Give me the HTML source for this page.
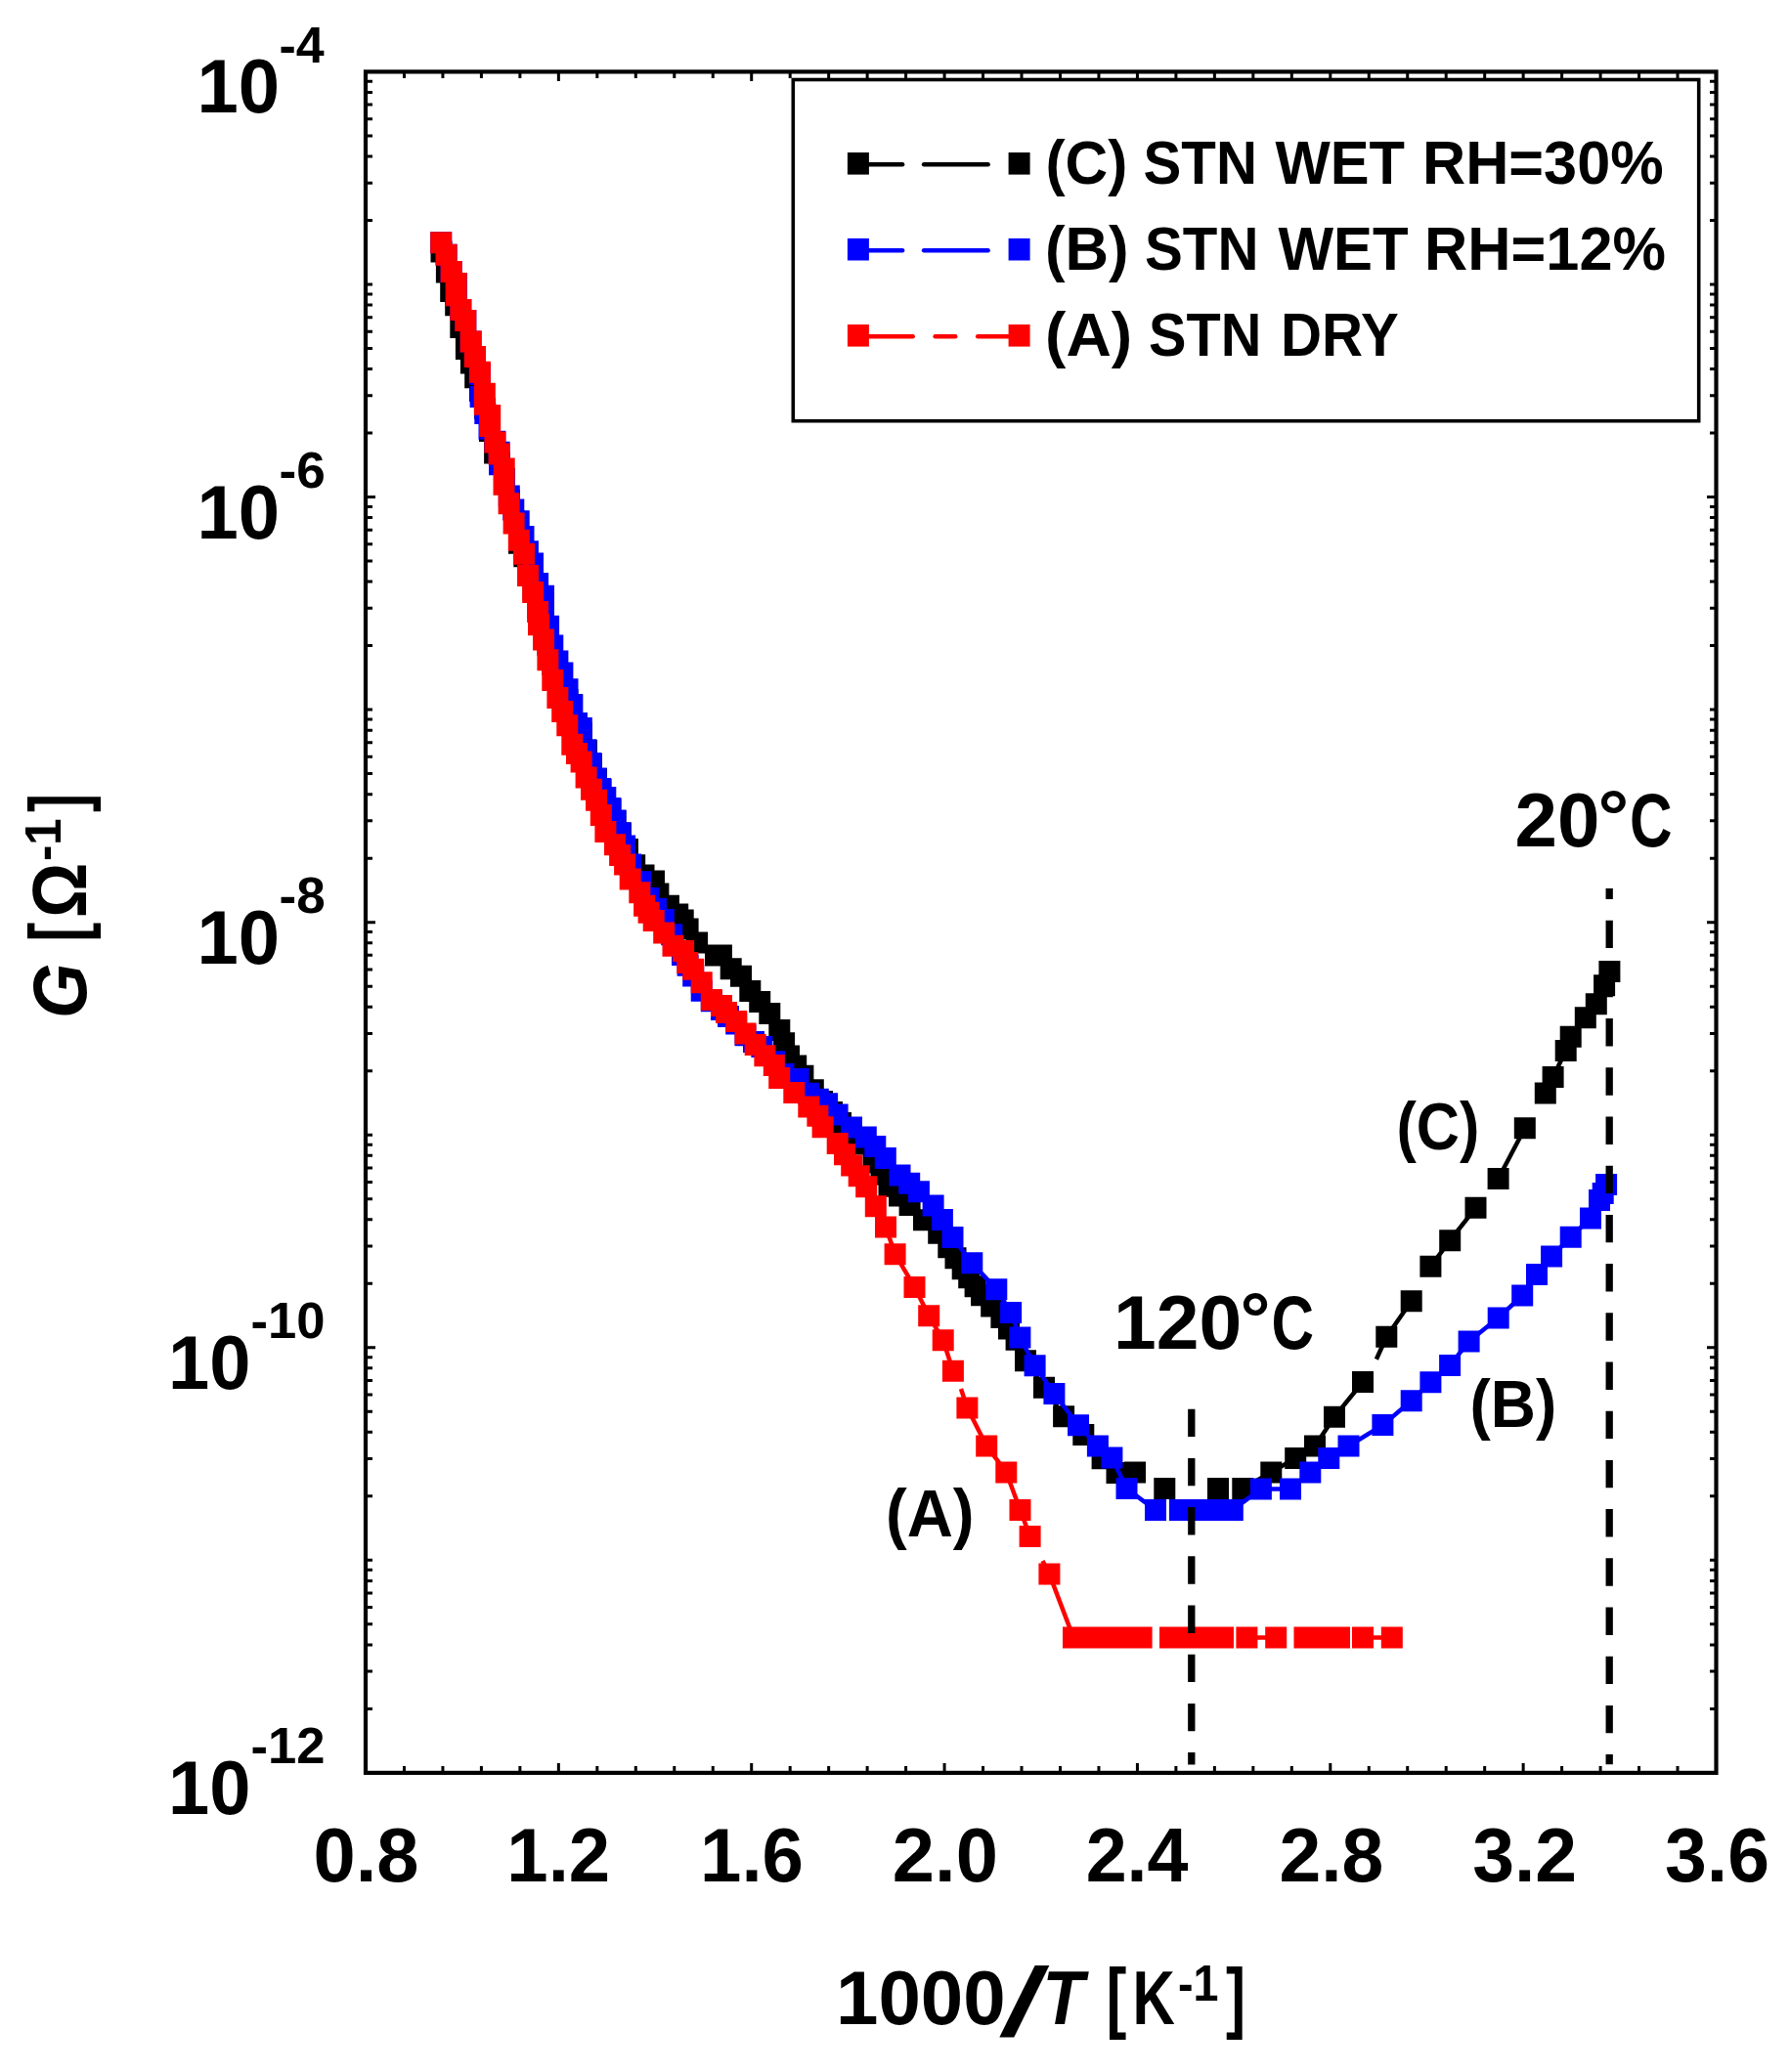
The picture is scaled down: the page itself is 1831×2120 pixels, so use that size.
<!DOCTYPE html>
<html lang="en"><head><meta charset="utf-8"><title>Conductance G versus 1000/T for STN samples</title>
<style>html,body{margin:0;padding:0;background:#fff}body{width:1831px;height:2120px;overflow:hidden}svg{display:block}text{font-family:"Liberation Sans",Arial,Helvetica,sans-serif;font-weight:bold;fill:#000}</style></head><body>
<svg width="1831" height="2120" viewBox="0 0 1831 2120">
<rect width="1831" height="2120" fill="#fff"/>
<g id="series-c"><path d="M451.5 257.4L456.9 278.5L461.2 298.0L466.2 312.3L471.3 335.1L476.9 357.1L481.9 371.4L486.2 386.3L491.0 400.0L496.0 418.0L501.0 441.0L506.1 463.5L511.0 474.0L516.0 490.0L521.0 512.0L526.0 533.0L531.0 555.7L536.3 569.2L540.5 588.0L545.5 603.0L550.5 622.0L556.0 640.0L560.5 660.0L565.5 680.0L570.5 696.0L575.4 708.0L580.5 716.0L585.2 721.3L589.8 739.9L595.0 750.0L600.0 768.0L605.0 782.0L610.0 797.0L614.5 808.0L618.8 816.1L624.5 828.0L629.6 840.0L634.9 852.4L642.0 869.0L649.2 885.3L658.5 895.5L669.0 901.4L673.4 914.4L683.9 926.7L693.2 935.5L698.7 941.4L703.6 950.4L713.1 964.4L732.0 977.4L737.9 977.4L747.7 991.3L758.0 998.7L767.3 1014.1L777.2 1025.0L787.3 1037.1L797.3 1054.0L807.0 1080.4L821.4 1100.7L831.8 1115.2L841.0 1127.0L851.0 1138.0L860.0 1149.0L870.0 1160.0L879.1 1170.6L893.5 1189.2L909.5 1213.7L930.6 1233.1L945.0 1248.3L960.2 1261.8L970.3 1276.2L984.7 1298.2L1004.1 1325.2L1024.4 1348.0L1039.6 1370.8L1049.0 1392.2L1068.0 1419.8L1088.1 1449.2L1108.3 1468.0L1127.6 1492.3L1142.5 1507.0L1161.0 1506.6M1191.3 1523.0M1246.0 1523.0M1271.3 1523.0L1300.3 1506.4L1325.2 1492.0L1345.0 1479.4L1365.0 1449.7L1394.0 1414.0M1418.3 1367.8L1443.7 1331.2M1463.4 1295.8L1483.2 1269.2L1509.5 1235.8M1532.6 1206.0L1559.8 1154.3M1580.8 1118.5L1588.6 1102.0L1601.7 1075.1L1606.7 1060.8L1621.8 1041.2L1632.8 1027.3L1641.1 1008.2L1646.4 993.9M1407.9 1390.8L1418.3 1367.8" fill="none" stroke="#000" stroke-width="4.5" stroke-linecap="butt" stroke-linejoin="round"/>
<path d="M440.5 246.4h22.0v22.0h-22.0zM445.9 267.5h22.0v22.0h-22.0zM450.2 287.0h22.0v22.0h-22.0zM455.2 301.3h22.0v22.0h-22.0zM460.3 324.1h22.0v22.0h-22.0zM465.9 346.1h22.0v22.0h-22.0zM470.9 360.4h22.0v22.0h-22.0zM475.2 375.3h22.0v22.0h-22.0zM480.0 389.0h22.0v22.0h-22.0zM485.0 407.0h22.0v22.0h-22.0zM490.0 430.0h22.0v22.0h-22.0zM495.1 452.5h22.0v22.0h-22.0zM500.0 463.0h22.0v22.0h-22.0zM505.0 479.0h22.0v22.0h-22.0zM510.0 501.0h22.0v22.0h-22.0zM515.0 522.0h22.0v22.0h-22.0zM520.0 544.7h22.0v22.0h-22.0zM525.3 558.2h22.0v22.0h-22.0zM529.5 577.0h22.0v22.0h-22.0zM534.5 592.0h22.0v22.0h-22.0zM539.5 611.0h22.0v22.0h-22.0zM545.0 629.0h22.0v22.0h-22.0zM549.5 649.0h22.0v22.0h-22.0zM554.5 669.0h22.0v22.0h-22.0zM559.5 685.0h22.0v22.0h-22.0zM564.4 697.0h22.0v22.0h-22.0zM569.5 705.0h22.0v22.0h-22.0zM574.2 710.3h22.0v22.0h-22.0zM578.8 728.9h22.0v22.0h-22.0zM584.0 739.0h22.0v22.0h-22.0zM589.0 757.0h22.0v22.0h-22.0zM594.0 771.0h22.0v22.0h-22.0zM599.0 786.0h22.0v22.0h-22.0zM603.5 797.0h22.0v22.0h-22.0zM607.8 805.1h22.0v22.0h-22.0zM613.5 817.0h22.0v22.0h-22.0zM618.6 829.0h22.0v22.0h-22.0zM623.9 841.4h22.0v22.0h-22.0zM631.0 858.0h22.0v22.0h-22.0zM638.2 874.3h22.0v22.0h-22.0zM647.5 884.5h22.0v22.0h-22.0zM658.0 890.4h22.0v22.0h-22.0zM662.4 903.4h22.0v22.0h-22.0zM672.9 915.7h22.0v22.0h-22.0zM682.2 924.5h22.0v22.0h-22.0zM687.7 930.4h22.0v22.0h-22.0zM692.6 939.4h22.0v22.0h-22.0zM702.1 953.4h22.0v22.0h-22.0zM721.0 966.4h22.0v22.0h-22.0zM726.9 966.4h22.0v22.0h-22.0zM736.7 980.3h22.0v22.0h-22.0zM747.0 987.7h22.0v22.0h-22.0zM756.3 1003.1h22.0v22.0h-22.0zM766.2 1014.0h22.0v22.0h-22.0zM776.3 1026.1h22.0v22.0h-22.0zM786.3 1043.0h22.0v22.0h-22.0zM791.1 1056.2h22.0v22.0h-22.0zM796.0 1069.4h22.0v22.0h-22.0zM803.2 1079.6h22.0v22.0h-22.0zM810.4 1089.7h22.0v22.0h-22.0zM820.8 1104.2h22.0v22.0h-22.0zM830.0 1116.0h22.0v22.0h-22.0zM840.0 1127.0h22.0v22.0h-22.0zM849.0 1138.0h22.0v22.0h-22.0zM859.0 1149.0h22.0v22.0h-22.0zM868.1 1159.6h22.0v22.0h-22.0zM882.5 1178.2h22.0v22.0h-22.0zM890.5 1190.5h22.0v22.0h-22.0zM898.5 1202.7h22.0v22.0h-22.0zM909.0 1212.4h22.0v22.0h-22.0zM919.6 1222.1h22.0v22.0h-22.0zM934.0 1237.3h22.0v22.0h-22.0zM949.2 1250.8h22.0v22.0h-22.0zM959.3 1265.2h22.0v22.0h-22.0zM966.5 1276.2h22.0v22.0h-22.0zM973.7 1287.2h22.0v22.0h-22.0zM980.2 1296.2h22.0v22.0h-22.0zM986.6 1305.2h22.0v22.0h-22.0zM993.1 1314.2h22.0v22.0h-22.0zM1003.2 1325.6h22.0v22.0h-22.0zM1013.4 1337.0h22.0v22.0h-22.0zM1021.0 1348.4h22.0v22.0h-22.0zM1028.6 1359.8h22.0v22.0h-22.0zM1038.0 1381.2h22.0v22.0h-22.0zM1057.0 1408.8h22.0v22.0h-22.0zM1077.1 1438.2h22.0v22.0h-22.0zM1097.3 1457.0h22.0v22.0h-22.0zM1116.6 1481.3h22.0v22.0h-22.0zM1131.5 1496.0h22.0v22.0h-22.0zM1150.0 1495.6h22.0v22.0h-22.0zM1180.3 1512.0h22.0v22.0h-22.0zM1235.0 1512.0h22.0v22.0h-22.0zM1260.3 1512.0h22.0v22.0h-22.0zM1289.3 1495.4h22.0v22.0h-22.0zM1314.2 1481.0h22.0v22.0h-22.0zM1334.0 1468.4h22.0v22.0h-22.0zM1354.0 1438.7h22.0v22.0h-22.0zM1383.0 1403.0h22.0v22.0h-22.0zM1407.3 1356.8h22.0v22.0h-22.0zM1432.7 1320.2h22.0v22.0h-22.0zM1452.4 1284.8h22.0v22.0h-22.0zM1472.2 1258.2h22.0v22.0h-22.0zM1498.5 1224.8h22.0v22.0h-22.0zM1521.6 1195.0h22.0v22.0h-22.0zM1548.8 1143.3h22.0v22.0h-22.0zM1569.8 1107.5h22.0v22.0h-22.0zM1577.6 1091.0h22.0v22.0h-22.0zM1590.7 1064.1h22.0v22.0h-22.0zM1595.7 1049.8h22.0v22.0h-22.0zM1610.8 1030.2h22.0v22.0h-22.0zM1621.8 1016.3h22.0v22.0h-22.0zM1630.1 997.2h22.0v22.0h-22.0zM1635.4 982.9h22.0v22.0h-22.0z" fill="#000"/></g>
<g id="series-b"><path d="M451.2 248.2L456.6 260.8L461.6 278.1L466.7 302.2L471.3 317.1L476.3 327.9L481.6 349.5L485.8 365.1L490.9 383.0L491.6 406.1L496.3 423.0L500.5 438.7L506.4 451.7L510.6 462.7L511.0 475.3L516.0 491.0L520.8 507.5L525.3 521.6L530.7 533.3L535.5 549.0L539.9 564.2L545.0 589.0L550.1 597.1L556.0 622.5L561.1 640.7L565.3 660.5L570.4 676.5L575.4 688.4L580.5 705.3L585.2 721.3L589.8 739.9L594.8 745.0L599.4 767.3L604.6 780.9L609.7 796.5L614.3 807.0L619.3 815.9L624.4 826.9L629.5 839.6L634.5 852.2L639.1 865.4L645.0 884.5L655.1 902.2L663.6 919.1L671.0 930.0L678.8 941.0L687.2 956.3L698.0 977.0L709.2 998.5L717.7 1013.7L727.8 1024.3L738.0 1033.0L745.0 1040.0L753.2 1047.4L762.5 1059.3L771.0 1066.0L779.4 1071.0L792.1 1086.2L801.4 1098.9L816.6 1103.9L827.0 1118.8L836.8 1124.7L846.1 1129.3L856.6 1140.6L871.0 1153.4L885.8 1163.6L895.3 1172.9L905.8 1185.0L920.5 1202.4L939.9 1219.3L954.6 1233.5L963.9 1248.0L974.5 1266.1L994.3 1292.3L1019.3 1319.3L1034.1 1343.0L1043.4 1368.6L1058.6 1397.3L1078.4 1426.1L1103.0 1458.2L1122.9 1479.5L1137.4 1491.5L1152.5 1523.1L1182.0 1545.0M1206.9 1545.0L1225.0 1545.0L1243.0 1545.0L1260.8 1545.0L1289.9 1523.4L1320.0 1523.4L1340.3 1506.6L1359.3 1492.1L1379.5 1479.5L1414.4 1458.1L1443.7 1433.2L1463.4 1414.3L1483.1 1397.1L1502.6 1372.4L1532.7 1348.4L1557.2 1325.5L1572.0 1304.1L1587.1 1285.6L1606.7 1265.7L1627.0 1246.5L1636.0 1228.0L1639.7 1221.0L1643.1 1212.0" fill="none" stroke="#0000ff" stroke-width="4.5" stroke-linecap="butt" stroke-linejoin="round"/>
<path d="M440.2 237.2h22.0v22.0h-22.0zM445.6 249.8h22.0v22.0h-22.0zM450.6 267.1h22.0v22.0h-22.0zM455.7 279.1h22.0v22.0h-22.0zM455.7 291.2h22.0v22.0h-22.0zM460.3 306.1h22.0v22.0h-22.0zM465.3 316.9h22.0v22.0h-22.0zM470.6 338.5h22.0v22.0h-22.0zM474.8 354.1h22.0v22.0h-22.0zM479.9 372.0h22.0v22.0h-22.0zM480.6 395.1h22.0v22.0h-22.0zM485.3 412.0h22.0v22.0h-22.0zM489.5 427.7h22.0v22.0h-22.0zM495.4 440.7h22.0v22.0h-22.0zM499.6 451.7h22.0v22.0h-22.0zM500.0 464.3h22.0v22.0h-22.0zM505.0 480.0h22.0v22.0h-22.0zM509.8 496.5h22.0v22.0h-22.0zM514.3 510.6h22.0v22.0h-22.0zM519.7 522.3h22.0v22.0h-22.0zM524.5 538.0h22.0v22.0h-22.0zM528.9 553.2h22.0v22.0h-22.0zM534.0 565.6h22.0v22.0h-22.0zM534.0 578.0h22.0v22.0h-22.0zM539.1 586.1h22.0v22.0h-22.0zM545.0 598.8h22.0v22.0h-22.0zM545.0 611.5h22.0v22.0h-22.0zM550.1 629.7h22.0v22.0h-22.0zM554.3 649.5h22.0v22.0h-22.0zM559.4 665.5h22.0v22.0h-22.0zM564.4 677.4h22.0v22.0h-22.0zM569.5 694.3h22.0v22.0h-22.0zM574.2 710.3h22.0v22.0h-22.0zM578.8 728.9h22.0v22.0h-22.0zM583.8 734.0h22.0v22.0h-22.0zM588.4 756.3h22.0v22.0h-22.0zM593.6 769.9h22.0v22.0h-22.0zM598.7 785.5h22.0v22.0h-22.0zM603.3 796.0h22.0v22.0h-22.0zM608.3 804.9h22.0v22.0h-22.0zM613.4 815.9h22.0v22.0h-22.0zM618.5 828.6h22.0v22.0h-22.0zM623.5 841.2h22.0v22.0h-22.0zM628.1 854.4h22.0v22.0h-22.0zM634.0 873.5h22.0v22.0h-22.0zM644.1 891.2h22.0v22.0h-22.0zM652.6 908.1h22.0v22.0h-22.0zM660.0 919.0h22.0v22.0h-22.0zM667.8 930.0h22.0v22.0h-22.0zM676.2 945.3h22.0v22.0h-22.0zM687.0 966.0h22.0v22.0h-22.0zM692.6 976.8h22.0v22.0h-22.0zM698.2 987.5h22.0v22.0h-22.0zM706.7 1002.7h22.0v22.0h-22.0zM716.8 1013.3h22.0v22.0h-22.0zM727.0 1022.0h22.0v22.0h-22.0zM734.0 1029.0h22.0v22.0h-22.0zM742.2 1036.4h22.0v22.0h-22.0zM751.5 1048.3h22.0v22.0h-22.0zM760.0 1055.0h22.0v22.0h-22.0zM768.4 1060.0h22.0v22.0h-22.0zM781.1 1075.2h22.0v22.0h-22.0zM790.4 1087.9h22.0v22.0h-22.0zM805.6 1092.9h22.0v22.0h-22.0zM816.0 1107.8h22.0v22.0h-22.0zM825.8 1113.7h22.0v22.0h-22.0zM835.1 1118.3h22.0v22.0h-22.0zM845.6 1129.6h22.0v22.0h-22.0zM860.0 1142.4h22.0v22.0h-22.0zM874.8 1152.6h22.0v22.0h-22.0zM884.3 1161.9h22.0v22.0h-22.0zM894.8 1174.0h22.0v22.0h-22.0zM909.5 1191.4h22.0v22.0h-22.0zM919.2 1199.8h22.0v22.0h-22.0zM928.9 1208.3h22.0v22.0h-22.0zM943.6 1222.5h22.0v22.0h-22.0zM952.9 1237.0h22.0v22.0h-22.0zM963.5 1255.1h22.0v22.0h-22.0zM983.3 1281.3h22.0v22.0h-22.0zM1008.3 1308.3h22.0v22.0h-22.0zM1023.1 1332.0h22.0v22.0h-22.0zM1032.4 1357.6h22.0v22.0h-22.0zM1047.6 1386.3h22.0v22.0h-22.0zM1067.4 1415.1h22.0v22.0h-22.0zM1092.0 1447.2h22.0v22.0h-22.0zM1111.9 1468.5h22.0v22.0h-22.0zM1126.4 1480.5h22.0v22.0h-22.0zM1141.5 1512.1h22.0v22.0h-22.0zM1171.0 1534.0h22.0v22.0h-22.0zM1195.9 1534.0h22.0v22.0h-22.0zM1214.0 1534.0h22.0v22.0h-22.0zM1232.0 1534.0h22.0v22.0h-22.0zM1249.8 1534.0h22.0v22.0h-22.0zM1278.9 1512.4h22.0v22.0h-22.0zM1309.0 1512.4h22.0v22.0h-22.0zM1329.3 1495.6h22.0v22.0h-22.0zM1348.3 1481.1h22.0v22.0h-22.0zM1368.5 1468.5h22.0v22.0h-22.0zM1403.4 1447.1h22.0v22.0h-22.0zM1432.7 1422.2h22.0v22.0h-22.0zM1452.4 1403.3h22.0v22.0h-22.0zM1472.1 1386.1h22.0v22.0h-22.0zM1491.6 1361.4h22.0v22.0h-22.0zM1521.7 1337.4h22.0v22.0h-22.0zM1546.2 1314.5h22.0v22.0h-22.0zM1561.0 1293.1h22.0v22.0h-22.0zM1576.1 1274.6h22.0v22.0h-22.0zM1595.7 1254.7h22.0v22.0h-22.0zM1616.0 1235.5h22.0v22.0h-22.0zM1625.0 1217.0h22.0v22.0h-22.0zM1628.7 1210.0h22.0v22.0h-22.0zM1632.1 1201.0h22.0v22.0h-22.0z" fill="#0000ff"/></g>
<g id="series-a"><path d="M451.2 248.2L456.6 260.8L461.6 278.1L466.7 302.2L471.3 317.1L476.3 327.9L481.6 349.5L485.8 365.1L490.9 380.8L495.8 402.7L501.2 436.0L506.4 452.6L510.6 464.4L515.7 479.6L515.5 495.8L520.6 515.2L525.6 535.6L530.8 552.8L536.0 566.7L540.1 588.9L545.2 606.0L550.1 625.9L551.0 639.3L556.0 654.6L560.4 675.2L565.3 696.0L570.4 714.1L575.2 728.0L580.3 742.2L585.3 761.8L590.0 771.0L594.6 779.6L599.6 795.6L605.0 807.8L610.0 818.8L614.8 834.0L619.4 851.0L629.0 864.2L634.1 875.1L639.1 884.4L644.7 899.6L654.3 913.2L659.1 926.7L663.6 933.8L668.7 941.9L679.2 954.5L688.5 967.7L699.1 973.1L703.3 984.9L709.2 991.7L717.7 1005.2L727.8 1023.0L738.0 1028.9L743.0 1036.0L753.2 1044.9L762.5 1057.6L772.7 1069.1L782.4 1080.3L791.8 1090.0L797.2 1103.0L812.3 1118.0L827.3 1132.4L836.4 1141.8L841.6 1153.2L856.7 1170.0L871.2 1192.4L886.2 1214.2L895.8 1234.2L906.0 1255.5L915.6 1283.2L935.5 1316.9L950.2 1346.2L964.7 1371.3L974.9 1402.8M989.4 1440.6L1009.2 1479.5L1029.3 1506.4L1043.5 1544.9L1053.6 1571.9M1073.4 1610.6L1098.0 1675.5L1112.0 1675.5L1126.0 1675.5L1140.0 1675.5L1154.0 1675.5L1167.6 1675.5M1197.0 1675.5L1210.5 1675.5L1224.0 1675.5L1237.5 1675.5L1251.0 1675.5M1275.4 1675.5L1305.2 1675.5M1334.5 1675.5L1352.0 1675.5L1370.0 1675.5M1394.0 1675.5L1423.8 1675.5M983.0 1421.0L989.4 1440.6M1066.5 1597.0L1073.4 1610.6" fill="none" stroke="#ff0000" stroke-width="4.5" stroke-linecap="butt" stroke-linejoin="round"/>
<path d="M440.2 237.2h22.0v22.0h-22.0zM445.6 249.8h22.0v22.0h-22.0zM450.6 267.1h22.0v22.0h-22.0zM455.7 279.1h22.0v22.0h-22.0zM455.7 291.2h22.0v22.0h-22.0zM460.3 306.1h22.0v22.0h-22.0zM465.3 316.9h22.0v22.0h-22.0zM470.6 338.5h22.0v22.0h-22.0zM474.8 354.1h22.0v22.0h-22.0zM479.9 369.8h22.0v22.0h-22.0zM484.8 391.7h22.0v22.0h-22.0zM484.8 402.8h22.0v22.0h-22.0zM490.2 413.9h22.0v22.0h-22.0zM490.2 425.0h22.0v22.0h-22.0zM495.4 441.6h22.0v22.0h-22.0zM499.6 453.4h22.0v22.0h-22.0zM504.7 468.6h22.0v22.0h-22.0zM504.5 484.8h22.0v22.0h-22.0zM509.6 504.2h22.0v22.0h-22.0zM514.6 524.6h22.0v22.0h-22.0zM519.8 541.8h22.0v22.0h-22.0zM525.0 555.7h22.0v22.0h-22.0zM529.1 577.9h22.0v22.0h-22.0zM534.2 595.0h22.0v22.0h-22.0zM539.1 614.9h22.0v22.0h-22.0zM540.0 628.3h22.0v22.0h-22.0zM545.0 643.6h22.0v22.0h-22.0zM549.4 664.2h22.0v22.0h-22.0zM554.3 685.0h22.0v22.0h-22.0zM559.4 703.1h22.0v22.0h-22.0zM564.2 717.0h22.0v22.0h-22.0zM569.3 731.2h22.0v22.0h-22.0zM574.3 750.8h22.0v22.0h-22.0zM579.0 760.0h22.0v22.0h-22.0zM583.6 768.6h22.0v22.0h-22.0zM588.6 784.6h22.0v22.0h-22.0zM594.0 796.8h22.0v22.0h-22.0zM599.0 807.8h22.0v22.0h-22.0zM603.8 823.0h22.0v22.0h-22.0zM608.4 840.0h22.0v22.0h-22.0zM618.0 853.2h22.0v22.0h-22.0zM623.1 864.1h22.0v22.0h-22.0zM628.1 873.4h22.0v22.0h-22.0zM633.7 888.6h22.0v22.0h-22.0zM643.3 902.2h22.0v22.0h-22.0zM648.1 915.7h22.0v22.0h-22.0zM652.6 922.8h22.0v22.0h-22.0zM657.7 930.9h22.0v22.0h-22.0zM668.2 943.5h22.0v22.0h-22.0zM677.5 956.7h22.0v22.0h-22.0zM688.1 962.1h22.0v22.0h-22.0zM692.3 973.9h22.0v22.0h-22.0zM698.2 980.7h22.0v22.0h-22.0zM706.7 994.2h22.0v22.0h-22.0zM716.8 1012.0h22.0v22.0h-22.0zM727.0 1017.9h22.0v22.0h-22.0zM732.0 1025.0h22.0v22.0h-22.0zM742.2 1033.9h22.0v22.0h-22.0zM751.5 1046.6h22.0v22.0h-22.0zM761.7 1058.1h22.0v22.0h-22.0zM771.4 1069.3h22.0v22.0h-22.0zM780.8 1079.0h22.0v22.0h-22.0zM786.2 1092.0h22.0v22.0h-22.0zM801.3 1107.0h22.0v22.0h-22.0zM816.3 1121.4h22.0v22.0h-22.0zM825.4 1130.8h22.0v22.0h-22.0zM830.6 1142.2h22.0v22.0h-22.0zM845.7 1159.0h22.0v22.0h-22.0zM853.0 1170.2h22.0v22.0h-22.0zM860.2 1181.4h22.0v22.0h-22.0zM867.7 1192.3h22.0v22.0h-22.0zM875.2 1203.2h22.0v22.0h-22.0zM884.8 1223.2h22.0v22.0h-22.0zM895.0 1244.5h22.0v22.0h-22.0zM904.6 1272.2h22.0v22.0h-22.0zM924.5 1305.9h22.0v22.0h-22.0zM939.2 1335.2h22.0v22.0h-22.0zM953.7 1360.3h22.0v22.0h-22.0zM963.9 1391.8h22.0v22.0h-22.0zM978.4 1429.6h22.0v22.0h-22.0zM998.2 1468.5h22.0v22.0h-22.0zM1018.3 1495.4h22.0v22.0h-22.0zM1032.5 1533.9h22.0v22.0h-22.0zM1042.6 1560.9h22.0v22.0h-22.0zM1062.4 1599.6h22.0v22.0h-22.0zM1087.0 1664.5h22.0v22.0h-22.0zM1101.0 1664.5h22.0v22.0h-22.0zM1115.0 1664.5h22.0v22.0h-22.0zM1129.0 1664.5h22.0v22.0h-22.0zM1143.0 1664.5h22.0v22.0h-22.0zM1156.6 1664.5h22.0v22.0h-22.0zM1186.0 1664.5h22.0v22.0h-22.0zM1199.5 1664.5h22.0v22.0h-22.0zM1213.0 1664.5h22.0v22.0h-22.0zM1226.5 1664.5h22.0v22.0h-22.0zM1240.0 1664.5h22.0v22.0h-22.0zM1264.4 1664.5h22.0v22.0h-22.0zM1294.2 1664.5h22.0v22.0h-22.0zM1323.5 1664.5h22.0v22.0h-22.0zM1341.0 1664.5h22.0v22.0h-22.0zM1359.0 1664.5h22.0v22.0h-22.0zM1383.0 1664.5h22.0v22.0h-22.0zM1412.8 1664.5h22.0v22.0h-22.0z" fill="#ff0000"/></g>
<g id="guides" stroke="#000" stroke-width="7.3" fill="none">
<line x1="1218.8" y1="1441.7" x2="1218.8" y2="1805.5" stroke-dasharray="28.4 21.8"/>
<line x1="1646.2" y1="908.9" x2="1646.2" y2="1805.3" stroke-dasharray="28.4 21.8" stroke-dashoffset="17.4"/>
</g>
<path id="ticks" d="M374.00 1813.90v-10.00M374.00 73.40v9.50M413.47 1813.90v-7.00M413.47 73.40v6.50M452.94 1813.90v-7.00M452.94 73.40v6.50M492.41 1813.90v-7.00M492.41 73.40v6.50M531.89 1813.90v-7.00M531.89 73.40v6.50M571.36 1813.90v-10.00M571.36 73.40v9.50M610.83 1813.90v-7.00M610.83 73.40v6.50M650.30 1813.90v-7.00M650.30 73.40v6.50M689.77 1813.90v-7.00M689.77 73.40v6.50M729.24 1813.90v-7.00M729.24 73.40v6.50M768.71 1813.90v-10.00M768.71 73.40v9.50M808.19 1813.90v-7.00M808.19 73.40v6.50M847.66 1813.90v-7.00M847.66 73.40v6.50M887.13 1813.90v-7.00M887.13 73.40v6.50M926.60 1813.90v-7.00M926.60 73.40v6.50M966.07 1813.90v-10.00M966.07 73.40v9.50M1005.54 1813.90v-7.00M1005.54 73.40v6.50M1045.01 1813.90v-7.00M1045.01 73.40v6.50M1084.49 1813.90v-7.00M1084.49 73.40v6.50M1123.96 1813.90v-7.00M1123.96 73.40v6.50M1163.43 1813.90v-10.00M1163.43 73.40v9.50M1202.90 1813.90v-7.00M1202.90 73.40v6.50M1242.37 1813.90v-7.00M1242.37 73.40v6.50M1281.84 1813.90v-7.00M1281.84 73.40v6.50M1321.31 1813.90v-7.00M1321.31 73.40v6.50M1360.79 1813.90v-10.00M1360.79 73.40v9.50M1400.26 1813.90v-7.00M1400.26 73.40v6.50M1439.73 1813.90v-7.00M1439.73 73.40v6.50M1479.20 1813.90v-7.00M1479.20 73.40v6.50M1518.67 1813.90v-7.00M1518.67 73.40v6.50M1558.14 1813.90v-10.00M1558.14 73.40v9.50M1597.61 1813.90v-7.00M1597.61 73.40v6.50M1637.09 1813.90v-7.00M1637.09 73.40v6.50M1676.56 1813.90v-7.00M1676.56 73.40v6.50M1716.03 1813.90v-7.00M1716.03 73.40v6.50M1755.50 1813.90v-10.00M1755.50 73.40v9.50M374.00 290.96h7.00M1755.50 290.96h-6.50M374.00 225.47h7.00M1755.50 225.47h-6.50M374.00 187.16h7.00M1755.50 187.16h-6.50M374.00 159.98h7.00M1755.50 159.98h-6.50M374.00 138.89h7.00M1755.50 138.89h-6.50M374.00 121.67h7.00M1755.50 121.67h-6.50M374.00 107.10h7.00M1755.50 107.10h-6.50M374.00 94.48h7.00M1755.50 94.48h-6.50M374.00 83.36h7.00M1755.50 83.36h-6.50M374.00 508.52h10.00M1755.50 508.52h-9.50M374.00 443.03h7.00M1755.50 443.03h-6.50M374.00 404.72h7.00M1755.50 404.72h-6.50M374.00 377.54h7.00M1755.50 377.54h-6.50M374.00 356.46h7.00M1755.50 356.46h-6.50M374.00 339.23h7.00M1755.50 339.23h-6.50M374.00 324.66h7.00M1755.50 324.66h-6.50M374.00 312.05h7.00M1755.50 312.05h-6.50M374.00 300.92h7.00M1755.50 300.92h-6.50M374.00 726.09h7.00M1755.50 726.09h-6.50M374.00 660.59h7.00M1755.50 660.59h-6.50M374.00 622.28h7.00M1755.50 622.28h-6.50M374.00 595.10h7.00M1755.50 595.10h-6.50M374.00 574.02h7.00M1755.50 574.02h-6.50M374.00 556.79h7.00M1755.50 556.79h-6.50M374.00 542.23h7.00M1755.50 542.23h-6.50M374.00 529.61h7.00M1755.50 529.61h-6.50M374.00 518.48h7.00M1755.50 518.48h-6.50M374.00 943.65h10.00M1755.50 943.65h-9.50M374.00 878.16h7.00M1755.50 878.16h-6.50M374.00 839.85h7.00M1755.50 839.85h-6.50M374.00 812.66h7.00M1755.50 812.66h-6.50M374.00 791.58h7.00M1755.50 791.58h-6.50M374.00 774.35h7.00M1755.50 774.35h-6.50M374.00 759.79h7.00M1755.50 759.79h-6.50M374.00 747.17h7.00M1755.50 747.17h-6.50M374.00 736.04h7.00M1755.50 736.04h-6.50M374.00 1161.21h7.00M1755.50 1161.21h-6.50M374.00 1095.72h7.00M1755.50 1095.72h-6.50M374.00 1057.41h7.00M1755.50 1057.41h-6.50M374.00 1030.23h7.00M1755.50 1030.23h-6.50M374.00 1009.14h7.00M1755.50 1009.14h-6.50M374.00 991.92h7.00M1755.50 991.92h-6.50M374.00 977.35h7.00M1755.50 977.35h-6.50M374.00 964.73h7.00M1755.50 964.73h-6.50M374.00 953.61h7.00M1755.50 953.61h-6.50M374.00 1378.78h10.00M1755.50 1378.78h-9.50M374.00 1313.28h7.00M1755.50 1313.28h-6.50M374.00 1274.97h7.00M1755.50 1274.97h-6.50M374.00 1247.79h7.00M1755.50 1247.79h-6.50M374.00 1226.71h7.00M1755.50 1226.71h-6.50M374.00 1209.48h7.00M1755.50 1209.48h-6.50M374.00 1194.91h7.00M1755.50 1194.91h-6.50M374.00 1182.30h7.00M1755.50 1182.30h-6.50M374.00 1171.17h7.00M1755.50 1171.17h-6.50M374.00 1596.34h7.00M1755.50 1596.34h-6.50M374.00 1530.84h7.00M1755.50 1530.84h-6.50M374.00 1492.53h7.00M1755.50 1492.53h-6.50M374.00 1465.35h7.00M1755.50 1465.35h-6.50M374.00 1444.27h7.00M1755.50 1444.27h-6.50M374.00 1427.04h7.00M1755.50 1427.04h-6.50M374.00 1412.48h7.00M1755.50 1412.48h-6.50M374.00 1399.86h7.00M1755.50 1399.86h-6.50M374.00 1388.73h7.00M1755.50 1388.73h-6.50M374.00 1813.90h10.00M1755.50 1813.90h-9.50M374.00 1748.41h7.00M1755.50 1748.41h-6.50M374.00 1710.10h7.00M1755.50 1710.10h-6.50M374.00 1682.91h7.00M1755.50 1682.91h-6.50M374.00 1661.83h7.00M1755.50 1661.83h-6.50M374.00 1644.60h7.00M1755.50 1644.60h-6.50M374.00 1630.04h7.00M1755.50 1630.04h-6.50M374.00 1617.42h7.00M1755.50 1617.42h-6.50M374.00 1606.29h7.00M1755.50 1606.29h-6.50" stroke="#000" stroke-width="3" fill="none"/>
<rect id="frame" x="374.00" y="73.40" width="1381.50" height="1740.50" fill="none" stroke="#000" stroke-width="4.2"/>
<g id="legend">
<rect x="811.3" y="81.5" width="926.4" height="349.2" fill="#fff" stroke="#000" stroke-width="3.6"/>
<line x1="878.0" y1="168.3" x2="923.1" y2="168.3" stroke="#000" stroke-width="4.5" stroke-linecap="round"/>
<line x1="945.1" y1="168.3" x2="1010.6" y2="168.3" stroke="#000" stroke-width="4.5" stroke-linecap="round"/>
<rect x="866.9" y="156.0" width="22" height="22.6" fill="#000"/>
<rect x="1031.6" y="156.0" width="22" height="22.6" fill="#000"/>
<line x1="878.0" y1="256.2" x2="923.1" y2="256.2" stroke="#0000ff" stroke-width="4.5" stroke-linecap="round"/>
<line x1="945.1" y1="256.2" x2="1010.6" y2="256.2" stroke="#0000ff" stroke-width="4.5" stroke-linecap="round"/>
<rect x="866.9" y="243.9" width="22" height="22.6" fill="#0000ff"/>
<rect x="1031.6" y="243.9" width="22" height="22.6" fill="#0000ff"/>
<line x1="878.0" y1="344.3" x2="933.7" y2="344.3" stroke="#ff0000" stroke-width="4.5" stroke-linecap="round"/>
<line x1="956.6" y1="344.3" x2="977.2" y2="344.3" stroke="#ff0000" stroke-width="4.5" stroke-linecap="round"/>
<line x1="1000.2" y1="344.3" x2="1039.8" y2="344.3" stroke="#ff0000" stroke-width="4.5" stroke-linecap="round"/>
<rect x="866.9" y="332.0" width="22" height="22.6" fill="#ff0000"/>
<rect x="1031.6" y="332.0" width="22" height="22.6" fill="#ff0000"/>
</g>
<g id="labels">
<text id="ylab0"><tspan id="yt0" x="201.50" y="115.40" font-size="77.68" textLength="84.66" lengthAdjust="spacingAndGlyphs">10</tspan><tspan id="ye0" x="285.50" y="63.90" font-size="52.17" textLength="46.19" lengthAdjust="spacingAndGlyphs">-4</tspan></text>
<text id="ylab1"><tspan id="yt1" x="201.50" y="550.52" font-size="77.68" textLength="84.66" lengthAdjust="spacingAndGlyphs">10</tspan><tspan id="ye1" x="285.50" y="499.02" font-size="52.17" textLength="47.29" lengthAdjust="spacingAndGlyphs">-6</tspan></text>
<text id="ylab2"><tspan id="yt2" x="201.50" y="985.65" font-size="77.68" textLength="84.66" lengthAdjust="spacingAndGlyphs">10</tspan><tspan id="ye2" x="285.50" y="934.15" font-size="52.17" textLength="47.24" lengthAdjust="spacingAndGlyphs">-8</tspan></text>
<text id="ylab3"><tspan id="yt3" x="172.00" y="1420.78" font-size="77.68" textLength="84.47" lengthAdjust="spacingAndGlyphs">10</tspan><tspan id="ye3" x="256.50" y="1369.28" font-size="52.17" textLength="76.05" lengthAdjust="spacingAndGlyphs">-10</tspan></text>
<text id="ylab4"><tspan id="yt4" x="172.00" y="1855.90" font-size="77.68" textLength="84.47" lengthAdjust="spacingAndGlyphs">10</tspan><tspan id="ye4" x="256.50" y="1804.40" font-size="52.17" textLength="76.02" lengthAdjust="spacingAndGlyphs">-12</tspan></text>
<text id="g_xt0"><tspan id="xt0" x="320.50" y="1925.00" font-size="77.68" textLength="107.98" lengthAdjust="spacingAndGlyphs">0.8</tspan></text>
<text id="g_xt1"><tspan id="xt1" x="518.29" y="1925.00" font-size="77.68" textLength="105.85" lengthAdjust="spacingAndGlyphs">1.2</tspan></text>
<text id="g_xt2"><tspan id="xt2" x="716.07" y="1925.00" font-size="77.68" textLength="105.85" lengthAdjust="spacingAndGlyphs">1.6</tspan></text>
<text id="g_xt3"><tspan id="xt3" x="912.86" y="1925.00" font-size="77.68" textLength="107.98" lengthAdjust="spacingAndGlyphs">2.0</tspan></text>
<text id="g_xt4"><tspan id="xt4" x="1110.64" y="1925.00" font-size="77.68" textLength="104.93" lengthAdjust="spacingAndGlyphs">2.4</tspan></text>
<text id="g_xt5"><tspan id="xt5" x="1308.43" y="1925.00" font-size="77.68" textLength="106.95" lengthAdjust="spacingAndGlyphs">2.8</tspan></text>
<text id="g_xt6"><tspan id="xt6" x="1506.21" y="1925.00" font-size="77.68" textLength="106.96" lengthAdjust="spacingAndGlyphs">3.2</tspan></text>
<text id="g_xt7"><tspan id="xt7" x="1703.00" y="1925.00" font-size="77.68" textLength="106.95" lengthAdjust="spacingAndGlyphs">3.6</tspan></text>
<text id="xtitle"><tspan id="xa1" x="855.00" y="2070.80" font-size="77.68" textLength="173.64" lengthAdjust="spacingAndGlyphs">1000</tspan><tspan id="xa1b" x="1027.00" y="2082.40" font-size="99.00" font-style="italic" textLength="35.24" lengthAdjust="spacingAndGlyphs">/</tspan><tspan id="xa2" x="1066.50" y="2070.80" font-size="77.68" font-style="italic" textLength="61.70" lengthAdjust="spacingAndGlyphs">T </tspan><tspan id="xa3" x="1131.50" y="2069.50" font-size="78.80" textLength="20.84" lengthAdjust="spacingAndGlyphs">[</tspan><tspan id="xa3b" x="1158.50" y="2070.80" font-size="77.68" textLength="43.33" lengthAdjust="spacingAndGlyphs">K</tspan><tspan id="xa4" x="1205.00" y="2046.50" font-size="52.17" textLength="41.49" lengthAdjust="spacingAndGlyphs">-1</tspan><tspan id="xa5" x="1254.00" y="2069.50" font-size="78.80" textLength="20.07" lengthAdjust="spacingAndGlyphs">]</tspan></text>
<text id="ytitle" transform="rotate(-90)"><tspan id="ya1" x="-1042.00" y="87.70" font-size="77.68" font-style="italic" textLength="76.57" lengthAdjust="spacingAndGlyphs">G </tspan><tspan id="ya2" x="-963.50" y="86.30" font-size="78.80" textLength="19.83" lengthAdjust="spacingAndGlyphs">[</tspan><tspan id="ya3" x="-939.00" y="87.70" font-size="77.68" textLength="56.40" lengthAdjust="spacingAndGlyphs">Ω</tspan><tspan id="ya4" x="-881.00" y="62.00" font-size="52.17" textLength="43.67" lengthAdjust="spacingAndGlyphs">-1</tspan><tspan id="ya5" x="-831.00" y="86.30" font-size="78.80" textLength="18.92" lengthAdjust="spacingAndGlyphs">]</tspan></text>
<text id="legend0"><tspan id="lg0_0" x="1069.50" y="188.00" font-size="63.77" textLength="100.63" lengthAdjust="spacingAndGlyphs">(C) </tspan><tspan id="lg0_1" x="1169.50" y="188.00" font-size="63.77" textLength="132.63" lengthAdjust="spacingAndGlyphs">STN </tspan><tspan id="lg0_2" x="1304.50" y="188.00" font-size="63.77" textLength="149.07" lengthAdjust="spacingAndGlyphs">WET </tspan><tspan id="lg0_3" x="1455.00" y="188.00" font-size="63.77" textLength="246.57" lengthAdjust="spacingAndGlyphs">RH=30%</tspan></text>
<text id="legend1"><tspan id="lg1_0" x="1069.00" y="276.00" font-size="63.77" textLength="102.69" lengthAdjust="spacingAndGlyphs">(B) </tspan><tspan id="lg1_1" x="1171.00" y="276.00" font-size="63.77" textLength="132.63" lengthAdjust="spacingAndGlyphs">STN </tspan><tspan id="lg1_2" x="1307.50" y="276.00" font-size="63.77" textLength="149.67" lengthAdjust="spacingAndGlyphs">WET </tspan><tspan id="lg1_3" x="1457.00" y="276.00" font-size="63.77" textLength="246.98" lengthAdjust="spacingAndGlyphs">RH=12%</tspan></text>
<text id="legend2"><tspan id="lg2_0" x="1069.00" y="363.50" font-size="63.77" textLength="107.02" lengthAdjust="spacingAndGlyphs">(A) </tspan><tspan id="lg2_1" x="1175.00" y="363.50" font-size="63.77" textLength="131.35" lengthAdjust="spacingAndGlyphs">STN </tspan><tspan id="lg2_2" x="1310.00" y="363.50" font-size="63.77" textLength="120.82" lengthAdjust="spacingAndGlyphs">DRY</tspan></text>
<text id="note20"><tspan id="an1" x="1549.50" y="866.20" font-size="77.68" textLength="86.84" lengthAdjust="spacingAndGlyphs">20</tspan><tspan id="an1b" x="1634.50" y="860.70" font-size="73.80" textLength="31.74" lengthAdjust="spacingAndGlyphs">°</tspan><tspan id="an1c" x="1667.00" y="866.20" font-size="77.68" textLength="43.57" lengthAdjust="spacingAndGlyphs">C</tspan></text>
<text id="note120"><tspan id="an2" x="1139.00" y="1380.00" font-size="77.68" textLength="131.30" lengthAdjust="spacingAndGlyphs">120</tspan><tspan id="an2b" x="1268.50" y="1374.50" font-size="73.80" textLength="31.01" lengthAdjust="spacingAndGlyphs">°</tspan><tspan id="an2c" x="1300.50" y="1380.00" font-size="77.68" textLength="43.56" lengthAdjust="spacingAndGlyphs">C</tspan></text>
<text id="g_an3"><tspan id="an3" x="906.00" y="1572.00" font-size="69.13" textLength="90.57" lengthAdjust="spacingAndGlyphs">(A)</tspan></text>
<text id="g_an4"><tspan id="an4" x="1503.50" y="1460.40" font-size="69.13" textLength="88.70" lengthAdjust="spacingAndGlyphs">(B)</tspan></text>
<text id="g_an5"><tspan id="an5" x="1428.50" y="1175.50" font-size="69.13" textLength="84.87" lengthAdjust="spacingAndGlyphs">(C)</tspan></text>
</g>
</svg></body></html>
